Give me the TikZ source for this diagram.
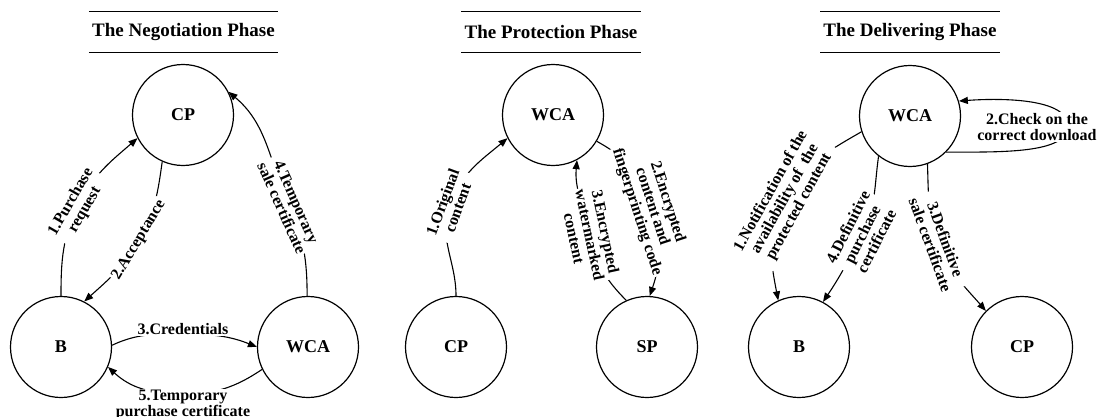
\documentclass[tikz,border=0pt]{standalone}
\usepackage{fontspec}
\setmainfont{Liberation Serif}
\usetikzlibrary{arrows.meta}
\begin{document}
\begin{tikzpicture}[x=1pt,y=1pt,
  party/.style={circle, draw, line width=1.2pt, minimum size=101pt, inner sep=0pt,
    font=\fontsize{18}{18}\selectfont\bfseries},
  msg/.style={fill=white, inner sep=1.5pt, align=center,
    font=\fontsize{16}{16}\selectfont\bfseries},
  flow/.style={line width=1.1pt, -{Triangle[length=9pt,width=7pt]}},
  phase/.style={inner xsep=3pt, inner ysep=0pt, minimum height=40pt,
    font=\fontsize{19}{19}\selectfont\bfseries},
  rule/.style={line width=1.3pt}]
\useasboundingbox (0,0) rectangle (1097,416);

% phase headings, each between two rules
\node[phase] (t1) at (183.5,384) {The Negotiation Phase};
\node[phase] (t2) at (551,384) {The Protection Phase};
\node[phase] (t3) at (910,384) {The Delivering Phase};
\foreach \t in {t1,t2,t3} {
  \draw[rule] (\t.north west) -- (\t.north east);
  \draw[rule] (\t.south west) -- (\t.south east);
}

% parties
\node[party] (CP1) at (183,301) {CP};
\node[party] (B1)  at (61,69)   {B};
\node[party] (W1)  at (308,69)  {WCA};
\node[party] (W2)  at (553,301) {WCA};
\node[party] (C2)  at (456,69)  {CP};
\node[party] (S2)  at (647,69)  {SP};
\node[party] (W3)  at (910,300) {WCA};
\node[party] (B3)  at (799,69)  {B};
\node[party] (C3)  at (1022,69) {CP};

% negotiation phase
\coordinate (m1) at (78,210);
\coordinate (m2) at (139,176);
\coordinate (m3) at (183,82);
\coordinate (m4) at (289,211);
\coordinate (m5) at (183,22);
\draw[flow] (B1.north) to[out=90,in=-116] (m1) to[out=64,in=221] (CP1.207);
\draw[flow] (CP1.246) to[out=262,in=60] (m2) to[out=240,in=42] (B1.63);
\draw[flow] (B1.2) to[out=25,in=180] (m3) to[out=0,in=158] (W1.180);
\draw[flow] (W1.91) to[out=90,in=-66] (m4) to[out=114,in=-40] (CP1.27);
\draw[flow] (W1.206) to[out=214,in=0] (m5) to[out=180,in=-43] (B1.-23);
\node[msg, rotate=60]  at (m1) {1.Purchase\\request};
\node[msg, rotate=59]  at (m2) {2.Acceptance};
\node[msg]             at (183,87) {3.Credentials};
\node[msg, rotate=-66] at (m4) {4.Temporary\\sale certificate};
\node[msg]             at (183,11) {5.Temporary\\purchase certificate};

% protection phase
\coordinate (n1) at (450,211);
\coordinate (n2) at (652,209);
\coordinate (n3) at (590,181);
\draw[flow] (C2.90) to[out=90,in=-110] (n1) to[out=70,in=220] (W2.207);
\draw[flow] (W2.-31) to[out=-29,in=105] (n2) to[out=-75,in=71] (S2.87);
\draw[flow] (S2.114) to[out=135,in=-78] (n3) to[out=102,in=265] (W2.-62);
\node[msg, rotate=70]  at (n1) {1.Original\\content};
\node[msg, rotate=-72] at (n2) {2.Encrypted\\content and\\fingerprinting code};
\node[msg, rotate=-78] at (n3) {3.Encrypted\\watermarked\\content};

% delivering phase
\coordinate (g1) at (785,217);
\coordinate (g2) at (1068,290);
\coordinate (g3) at (938,174);
\coordinate (g4) at (862,182);
\draw[flow] (W3.198) to[out=210,in=61] (g1) to[out=241,in=101] (B3.114);
\draw[flow] (W3.-45) .. controls (1000,264) and (1068,262) .. (g2)
                     .. controls (1068,318) and (1000,318) .. (W3.17);
\draw[flow] (W3.-70) to[out=272,in=110] (g3) to[out=-70,in=131] (C3.135);
\draw[flow] (W3.232) to[out=262,in=63] (g4) to[out=243,in=56] (B3.62);
\node[msg, rotate=61]  at (g1) {1.Notification of the\\availability of~~the\\protected content};
\node[msg]             at (1037,289) {2.Check on the\\correct download};
\node[msg, rotate=-70] at (g3) {3.Definitive\\sale certificate};
\node[msg, rotate=63]  at (g4) {4.Definitive\\purchase\\certificate};
\end{tikzpicture}
\end{document}
